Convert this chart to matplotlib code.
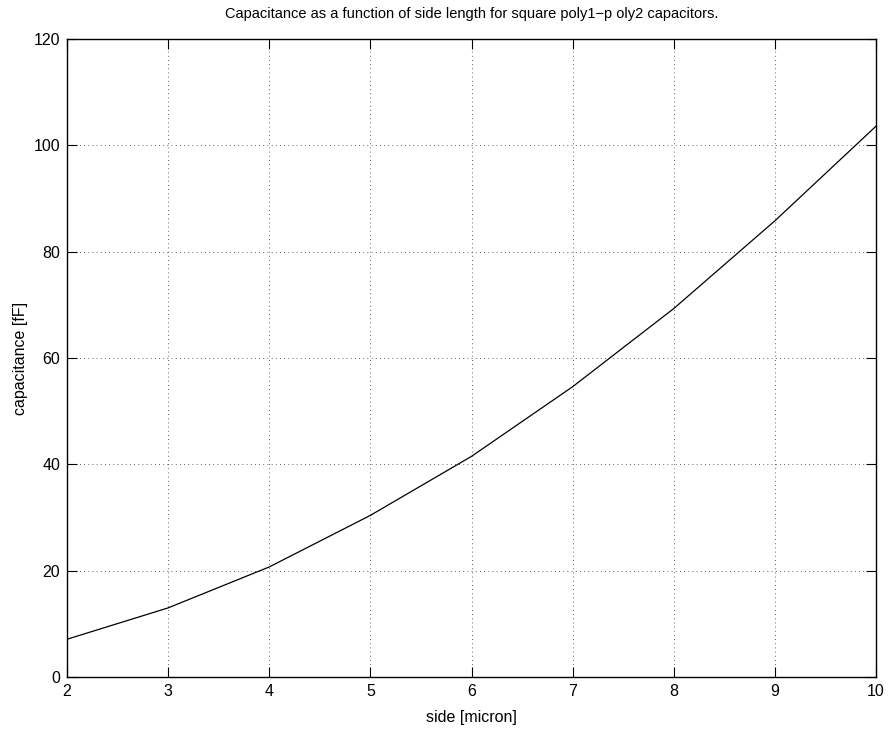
import matplotlib
matplotlib.use("Agg")
import matplotlib.pyplot as plt

side = [2, 3, 4, 5, 6, 7, 8, 9, 10]
capacitance = [7.1, 13.0, 20.7, 30.4, 41.5, 54.6, 69.3, 85.8, 103.6]
xticks = [2, 3, 4, 5, 6, 7, 8, 9, 10]
yticks = [0, 20, 40, 60, 80, 100, 120]

plt.rcParams['font.family'] = ['Liberation Sans', 'DejaVu Sans']

fig = plt.figure(figsize=(8.9, 7.29), dpi=100)
ax = fig.add_axes([67/890, 52/729, 809/890, 638/729])

ax.plot(side, capacitance, color='black', linewidth=0.9)

ax.set_xlim(2, 10)
ax.set_ylim(0, 120)
ax.set_xticks(xticks)
ax.set_yticks(yticks)
ax.tick_params(direction='in', top=True, right=True, length=7, width=0.8,
               labelsize=11.5, pad=5, colors='black')
ax.grid(True, color='black', linestyle=(0, (1, 4)), linewidth=0.6, alpha=0.8)
for s in ax.spines.values():
    s.set_linewidth(1.0)

ax.set_title('Capacitance as a function of side length for square poly1\u2212p oly2 capacitors.',
             fontsize=10.5, pad=15)
ax.set_xlabel('side [micron]', fontsize=11.5, labelpad=8)
ax.set_ylabel('capacitance [fF]', fontsize=11.5, labelpad=4)

fig.savefig('out.png', dpi=100)
